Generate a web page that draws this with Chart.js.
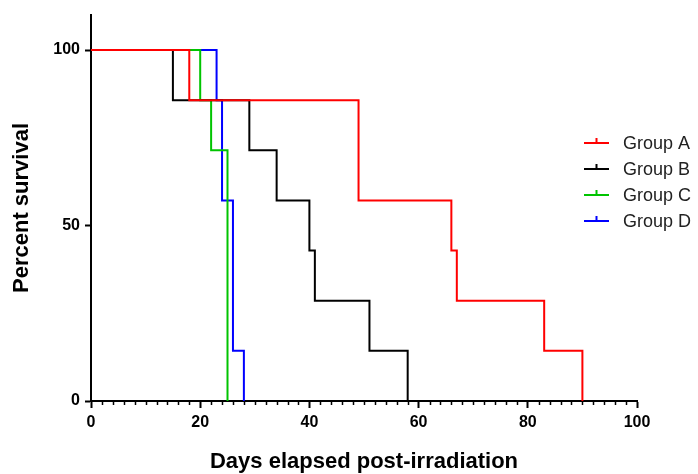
<!DOCTYPE html>
<html>
<head>
<meta charset="utf-8">
<script src="https://cdn.jsdelivr.net/npm/chart.js@4/dist/chart.umd.min.js"></script>
<style>
  html, body { margin: 0; padding: 0; background: #fff; }
  #wrap { width: 698px; height: 474px; }
</style>
</head>
<body>
<div id="wrap"><canvas id="chart" width="698" height="474"></canvas></div>
<script>
// Kaplan-Meier steps: day of each drop and survival (%) after it
const groupNames = ["Group A", "Group B", "Group C", "Group D"];
const groupColors = ["#ff0000", "#000000", "#00c400", "#0000ff"];

const daysA = [0, 18, 49, 66, 67, 83, 90];
const survA = [100, 85.71, 57.14, 42.86, 28.57, 14.29, 0];

const daysB = [0, 15, 29, 34, 40, 41, 51, 58];
const survB = [100, 85.71, 71.43, 57.14, 42.86, 28.57, 14.29, 0];

const daysC = [0, 20, 22, 25];
const survC = [100, 85.71, 71.43, 0];

const daysD = [0, 23, 24, 26, 28];
const survD = [100, 85.71, 57.14, 14.29, 0];

const yTickValues = [0, 50, 100];

const FONT = "'Liberation Sans', Arial, sans-serif";
Chart.defaults.font.family = FONT;
Chart.defaults.color = "#000";

const toPoints = (days, surv) => days.map((d, i) => ({ x: d, y: surv[i] }));
const series = [[daysA, survA], [daysB, survB], [daysC, survC], [daysD, survD]];

// small minor ticks every 2 days under the x axis
const minorTicks = {
  id: "minorTicks",
  afterDraw(chart) {
    const ctx = chart.ctx;
    const xs = chart.scales.x;
    const bottom = chart.chartArea.bottom;
    ctx.save();
    ctx.strokeStyle = "#000";
    ctx.lineWidth = 1.5;
    for (let d = 0; d <= 100; d += 2) {
      if (d % 20 === 0) continue;
      const px = Math.round(xs.getPixelForValue(d)) + 0.5;
      ctx.beginPath();
      ctx.moveTo(px, bottom);
      ctx.lineTo(px, bottom + 4);
      ctx.stroke();
    }
    ctx.restore();
  }
};

// legend on the right, line with a small tick mark like the original
const sideLegend = {
  id: "sideLegend",
  afterDraw(chart) {
    const ctx = chart.ctx;
    ctx.save();
    ctx.font = "18px " + FONT;
    ctx.textBaseline = "middle";
    chart.data.datasets.forEach((ds, i) => {
      const y = 143 + i * 26;
      ctx.strokeStyle = ds.borderColor;
      ctx.lineWidth = 2;
      ctx.beginPath();
      ctx.moveTo(584, y);
      ctx.lineTo(609, y);
      ctx.moveTo(596.5, y);
      ctx.lineTo(596.5, y - 5);
      ctx.stroke();
      ctx.fillStyle = "#222";
      ctx.fillText(ds.label, 623, y + 1);
    });
    ctx.restore();
  }
};

new Chart(document.getElementById("chart"), {
  type: "line",
  data: {
    datasets: series.map(([d, s], i) => ({
      label: groupNames[i],
      data: toPoints(d, s),
      borderColor: groupColors[i],
      backgroundColor: groupColors[i],
      borderWidth: 2,
      pointRadius: 0,
      stepped: "before",
      fill: false,
      clip: false
    }))
  },
  options: {
    responsive: false,
    animation: false,
    layout: { padding: { left: 0, top: 15, right: 61, bottom: 0 } },
    plugins: {
      legend: { display: false },
      tooltip: { enabled: false }
    },
    scales: {
      x: {
        type: "linear",
        min: 0,
        max: 100,
        ticks: {
          stepSize: 20,
          padding: 5,
          font: { size: 16, weight: "bold" },
          color: "#000"
        },
        grid: {
          drawOnChartArea: false,
          drawTicks: true,
          tickLength: 7,
          tickWidth: 2,
          tickColor: "#000"
        },
        border: { color: "#000", width: 2 },
        title: {
          display: true,
          text: "Days elapsed post-irradiation",
          font: { size: 22, weight: "bold", lineHeight: 1.1 },
          color: "#000",
          padding: { top: 0, bottom: 0 }
        },
        afterFit(scale) { scale.height = 73; }
      },
      y: {
        min: 0,
        max: 110,
        afterBuildTicks(scale) {
          scale.ticks = yTickValues.map(v => ({ value: v }));
        },
        ticks: {
          padding: 5,
          font: { size: 16, weight: "bold" },
          color: "#000"
        },
        grid: {
          drawOnChartArea: false,
          drawTicks: true,
          tickLength: 6,
          tickWidth: 2,
          tickColor: "#000"
        },
        border: { color: "#000", width: 2 },
        title: {
          display: true,
          text: "Percent survival",
          font: { size: 22, weight: "bold", lineHeight: 1.1 },
          color: "#000",
          padding: { top: 10, bottom: 0 }
        },
        afterFit(scale) { scale.width = 91; }
      }
    }
  },
  plugins: [minorTicks, sideLegend]
});
</script>
</body>
</html>
